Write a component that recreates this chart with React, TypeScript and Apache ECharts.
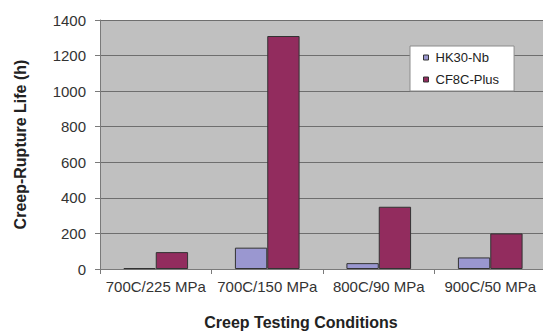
import React, { useEffect, useRef } from "react";
import * as echarts from "echarts";

const categories = ["700C/225 MPa", "700C/150 MPa", "800C/90 MPa", "900C/50 MPa"];
const hk30Nb = [5, 120, 33, 65];
const cf8cPlus = [95, 1310, 350, 200];
const yTicks = [0, 200, 400, 600, 800, 1000, 1200, 1400];

export default function App() {
  const ref = useRef<HTMLDivElement>(null);
  useEffect(() => {
    const chart = echarts.init(ref.current!, null, { renderer: "svg" });
    const font = "Liberation Sans, Arial, sans-serif";
    chart.setOption({
      animation: false,
      textStyle: { fontFamily: font },
      grid: {
        left: 100,
        top: 20,
        width: 446,
        height: 249,
        show: true,
        backgroundColor: "#c0c0c0",
        borderWidth: 0,
        outerBoundsMode: "none",
        containLabel: false,
      },
      legend: {
        orient: "vertical",
        left: 410,
        top: 46,
        padding: [5, 15, 5, 13],
        backgroundColor: "#ffffff",
        borderColor: "#8c8c8c",
        borderWidth: 1,
        itemWidth: 5,
        itemHeight: 5,
        itemGap: 9,
        textStyle: { fontFamily: font, fontSize: 13, lineHeight: 13, color: "#222", padding: [0, 0, 0, 2] },
        data: [
          { name: "HK30-Nb", icon: "rect", itemStyle: { borderColor: "#333", borderWidth: 1 } },
          { name: "CF8C-Plus", icon: "rect", itemStyle: { borderColor: "#333", borderWidth: 1 } },
        ],
      },
      xAxis: {
        type: "category",
        data: categories,
        name: "Creep Testing Conditions",
        nameLocation: "middle",
        nameGap: 45,
        nameTextStyle: { fontFamily: font, fontSize: 16, fontWeight: "bold", color: "#222", padding: [0, 44, 0, 0] },
        axisLine: { lineStyle: { color: "#7a7a7a" } },
        axisTick: { show: true, length: 5, lineStyle: { color: "#7a7a7a" } },
        axisLabel: { fontFamily: font, fontSize: 15, color: "#333", margin: 10, interval: 0 },
      },
      yAxis: {
        type: "value",
        min: 0,
        max: 1400,
        interval: 200,
        name: "Creep-Rupture Life (h)",
        nameLocation: "middle",
        nameGap: 72,
        nameTextStyle: { fontFamily: font, fontSize: 16, fontWeight: "bold", color: "#222" },
        axisLine: { show: true, lineStyle: { color: "#7a7a7a" } },
        axisTick: { show: true, length: 5, lineStyle: { color: "#7a7a7a" } },
        axisLabel: {
          fontFamily: font,
          fontSize: 15,
          color: "#333",
          margin: 14,
          formatter: (v: number) => (yTicks.includes(v) ? String(v) : ""),
        },
        splitLine: { lineStyle: { color: "#6e6e6e", width: 1 } },
      },
      series: [
        {
          name: "HK30-Nb",
          type: "bar",
          data: hk30Nb,
          barGap: "0%",
          barCategoryGap: "42%",
          itemStyle: { color: "#9a97d0", borderColor: "#333", borderWidth: 1 },
        },
        {
          name: "CF8C-Plus",
          type: "bar",
          data: cf8cPlus,
          barGap: "0%",
          barCategoryGap: "42%",
          itemStyle: { color: "#922c5e", borderColor: "#333", borderWidth: 1 },
        },
      ],
    });
    return () => chart.dispose();
  }, []);
  return (
    <div
      ref={ref}
      style={{ position: "absolute", left: 0, top: 0, width: 543, height: 331, background: "#fff" }}
    />
  );
}
